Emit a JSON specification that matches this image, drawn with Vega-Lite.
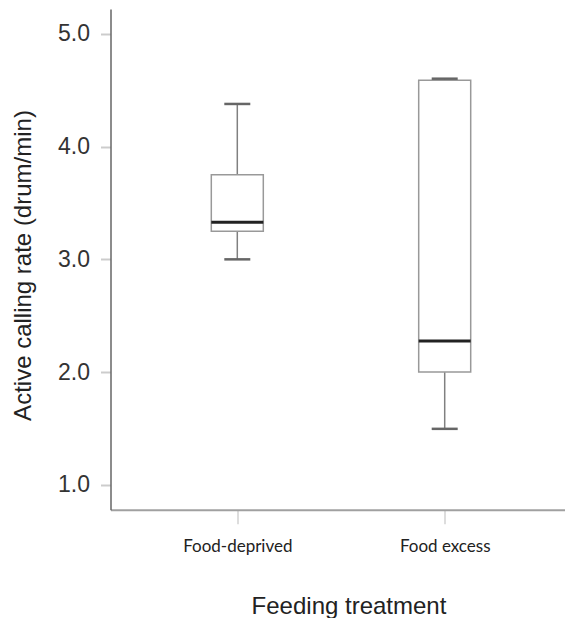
{
  "$schema": "https://vega.github.io/schema/vega-lite/v6.json",
  "autosize": "none",
  "width": 454.5,
  "height": 500.7,
  "padding": {"left": 110.5, "top": 9, "right": 0, "bottom": 108.3},
  "background": "white",
  "config": {"view": {"stroke": null}},
  "data": {
    "values": [
      {"group": "Food-deprived", "lower": 3.0, "q1": 3.25, "median": 3.33, "q3": 3.75, "upper": 4.378},
      {"group": "Food excess", "lower": 1.497, "q1": 2.0, "median": 2.277, "q3": 4.588, "upper": 4.602}
    ]
  },
  "encoding": {
    "x": {
      "field": "group",
      "type": "nominal",
      "sort": ["Food-deprived", "Food excess"],
      "scale": {"type": "point", "range": [0, 461], "padding": 0.6114},
      "axis": {
        "title": "Feeding treatment",
        "labelAngle": 0,
        "labelFont": "Lato",
        "labelFontSize": 17,
        "labelColor": "#222",
        "labelBaseline": "alphabetic",
        "labelPadding": 28,
        "tickColor": "#dddddd",
        "tickSize": 14,
        "tickWidth": 2,
        "domainColor": "#a0a0a0",
        "domainWidth": 2,
        "titleFont": "Liberation Sans",
        "titleFontSize": 24,
        "titleFontWeight": "normal",
        "titleColor": "#222",
        "titleBaseline": "alphabetic",
        "titleAlign": "center",
        "titleX": 238,
        "titleY": 103.3
      }
    }
  },
  "layer": [
    {
      "mark": {"type": "rule", "color": "#808080", "strokeWidth": 1.5},
      "encoding": {
        "y": {
          "field": "lower",
          "type": "quantitative",
          "scale": {"domain": [0.78, 5.22], "nice": false, "zero": false},
          "axis": {
            "title": "Active calling rate (drum/min)",
            "values": [1, 2, 3, 4, 5],
            "format": ".1f",
            "grid": false,
            "labelFont": "Liberation Sans",
            "labelFontSize": 23,
            "labelColor": "#333",
            "labelPadding": 11,
            "tickColor": "#cccccc",
            "tickSize": 10,
            "tickWidth": 2,
            "domainColor": "#666666",
            "domainWidth": 1.5,
            "titleFont": "Liberation Sans",
            "titleFontSize": 24,
            "titleFontWeight": "normal",
            "titleColor": "#222",
            "titleBaseline": "alphabetic",
            "titleAlign": "center",
            "titleAngle": -90,
            "titleX": -80,
            "titleY": 256
          }
        },
        "y2": {"field": "q1"}
      }
    },
    {
      "mark": {"type": "rule", "color": "#808080", "strokeWidth": 1.5},
      "encoding": {
        "y": {"field": "q3", "type": "quantitative"},
        "y2": {"field": "upper"}
      }
    },
    {
      "mark": {"type": "bar", "width": 52, "fill": "white", "stroke": "#999999", "strokeWidth": 1.5},
      "encoding": {
        "y": {"field": "q1", "type": "quantitative"},
        "y2": {"field": "q3"}
      }
    },
    {
      "mark": {"type": "tick", "orient": "horizontal", "size": 52, "thickness": 3, "color": "#222222", "opacity": 1},
      "encoding": {
        "y": {"field": "median", "type": "quantitative"}
      }
    },
    {
      "mark": {"type": "tick", "orient": "horizontal", "size": 26, "thickness": 2.5, "color": "#666666", "opacity": 1},
      "encoding": {
        "y": {"field": "lower", "type": "quantitative"}
      }
    },
    {
      "mark": {"type": "tick", "orient": "horizontal", "size": 26, "thickness": 2.5, "color": "#666666", "opacity": 1},
      "encoding": {
        "y": {"field": "upper", "type": "quantitative"}
      }
    }
  ]
}
